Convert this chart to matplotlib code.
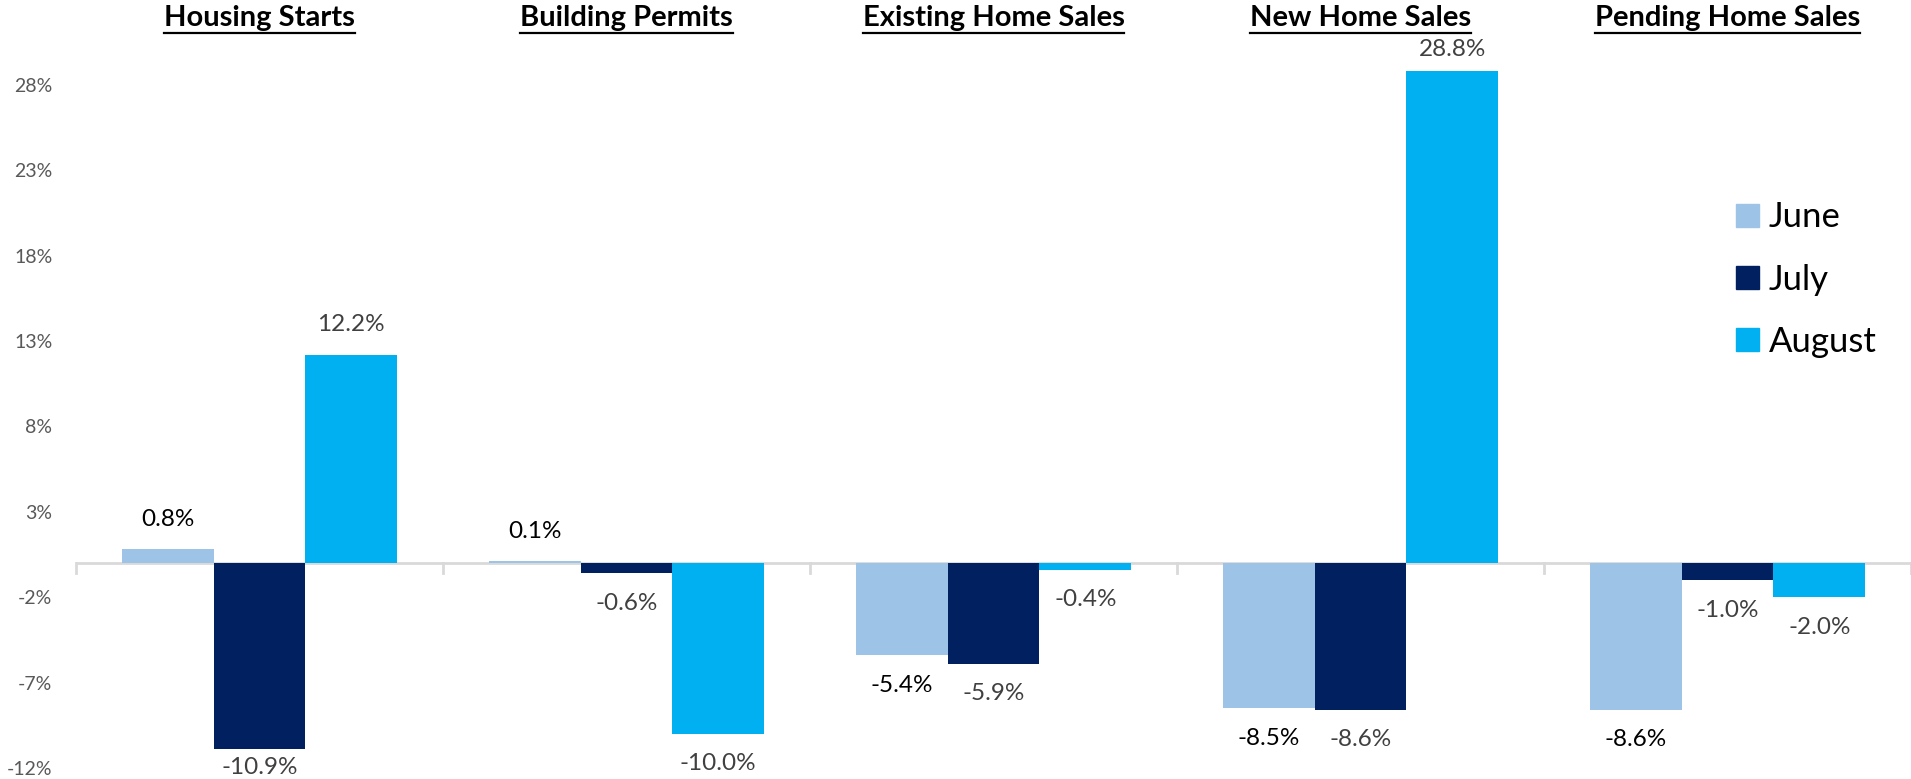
import numpy as np
import matplotlib
matplotlib.use("Agg")
import matplotlib.pyplot as plt
from matplotlib.patches import Patch
from matplotlib.lines import Line2D

# data
categories = ["Housing Starts", "Building Permits", "Existing Home Sales",
              "New Home Sales", "Pending Home Sales"]
june = [0.8, 0.1, -5.4, -8.5, -8.6]
july = [-10.9, -0.6, -5.9, -8.6, -1.0]
august = [12.2, -10.0, -0.4, 28.8, -2.0]
series_names = ["June", "July", "August"]
y_ticks = [-12, -7, -2, 3, 8, 13, 18, 23, 28]

colors = ["#9DC3E6", "#002060", "#00B0F0"]
label_colors = ["#000000", "#404040", "#404040"]

plt.rcParams["font.family"] = ["Lato", "DejaVu Sans"]

fig = plt.figure(figsize=(19.11, 7.79), dpi=100)
ax = fig.add_axes([76 / 1911, 11 / 779, 1 - 76 / 1911, 0.9348 - 11 / 779])
ax.set_xlim(-0.5, len(categories) - 0.5)
ax.set_ylim(-12, 30)

x = np.arange(len(categories))
width = 0.25
gap_px = 30      # distance from bar end to label centre
min_px = 12      # labels are kept inside the picture (like excel does)
max_px = 730
all_series = [june, july, august]
for i, vals in enumerate(all_series):
    pos = x + (i - 1) * width
    ax.bar(pos, vals, width, color=colors[i], label=series_names[i], zorder=2)
    for px, v in zip(pos, vals):
        end_px = ax.transData.transform((px, v))[1]
        if v >= 0:
            ty = min(end_px + gap_px, max_px)
        else:
            ty = max(end_px - gap_px, min_px)
        ax.annotate(f"{v:.1f}%", (px, ty), xycoords=("data", "figure pixels"),
                    ha="center", va="center", fontsize=17.5, color=label_colors[i],
                    annotation_clip=False)

ax.set_yticks(y_ticks)
ax.set_yticklabels([f"{t}%" for t in y_ticks], fontsize=14, color="#595959")
ax.tick_params(axis="y", length=0, pad=17)
ax.set_xticks([])
for s in ax.spines.values():
    s.set_visible(False)

# zero line with little category separator ticks
ax.axhline(0, color="#D9D9D9", lw=2, zorder=1)
for b in np.arange(-0.5, len(categories), 1.0):
    ax.plot([b, b], [0, -0.6], color="#D9D9D9", lw=2, zorder=1, clip_on=False)

# underlined bold titles over each group
fig.canvas.draw()
renderer = fig.canvas.get_renderer()
for i, name in enumerate(categories):
    xf = ax.transData.transform((i, 0))[0] / fig.bbox.width
    t = fig.text(xf, 1 - 18 / 779, name, ha="center", va="center",
                 fontsize=21, fontweight="bold", color="black")
    bb = t.get_window_extent(renderer).transformed(fig.transFigure.inverted())
    yline = 1 - 33 / 779
    fig.add_artist(Line2D([bb.x0, bb.x1], [yline, yline], color="black", lw=1.6,
                          transform=fig.transFigure))

handles = [Patch(color=c) for c in colors]
fig.legend(handles, series_names, loc="center left", bbox_to_anchor=(1736 / 1911, 0.641),
           frameon=False, fontsize=25, handlelength=0.65, handleheight=0.65,
           handletextpad=0.3, labelspacing=0.87, borderpad=0, borderaxespad=0)

fig.savefig("out.png", dpi=100)
